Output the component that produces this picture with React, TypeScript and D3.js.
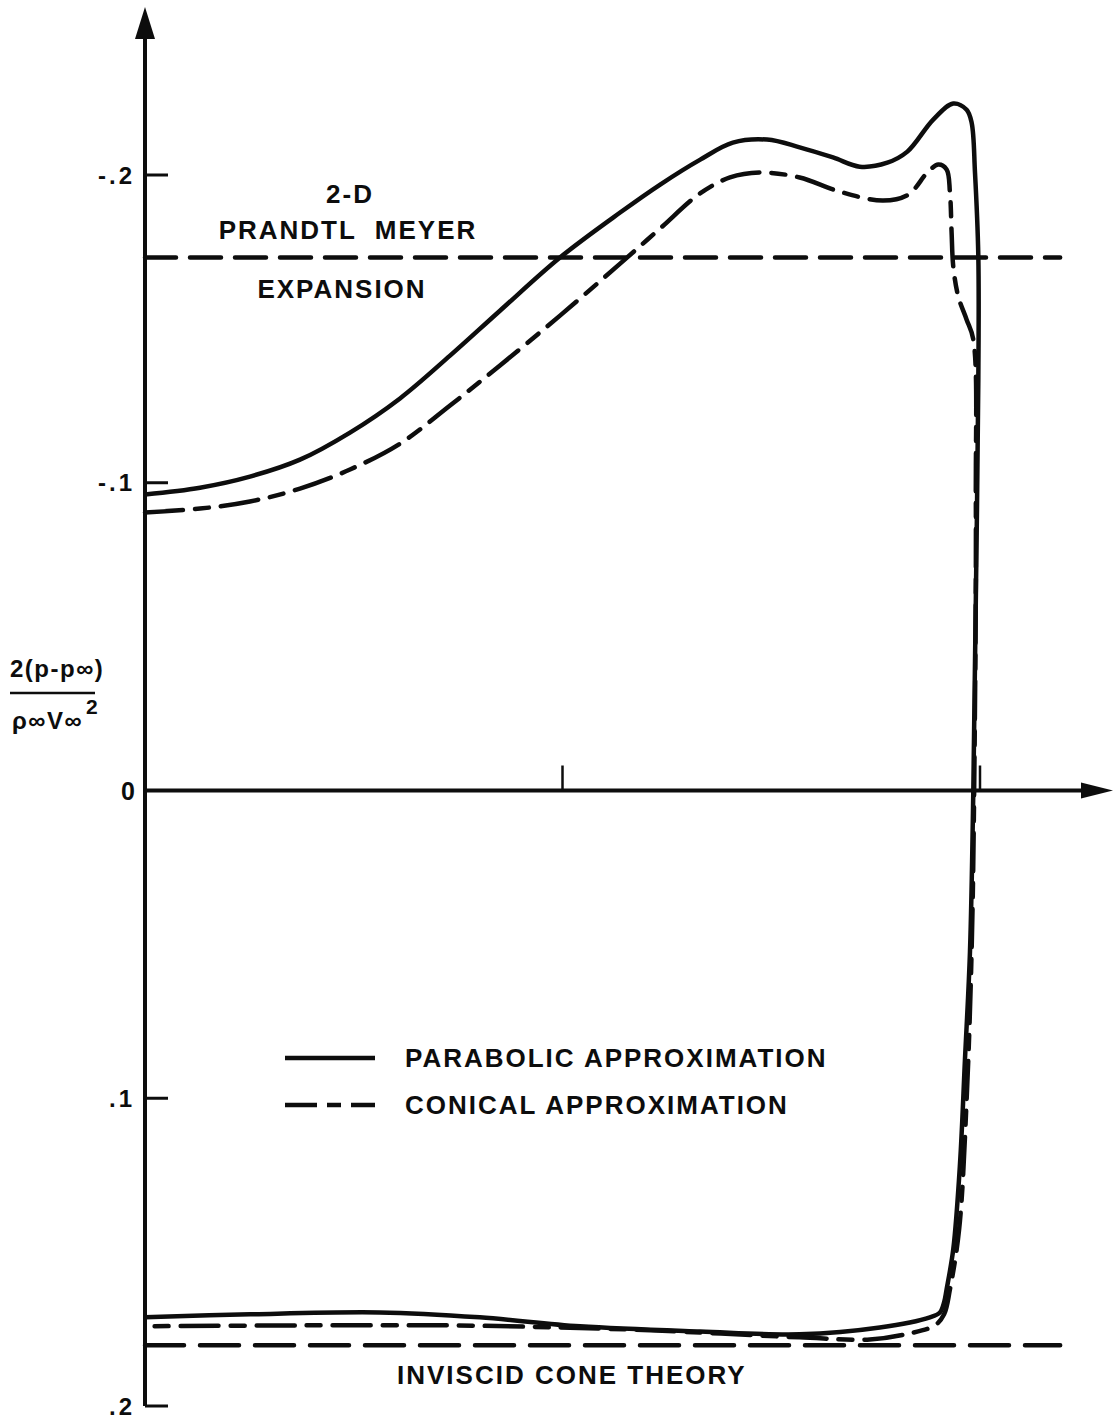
import React from "react";
import * as d3 from "d3";

// x / L along the body, pressure coefficient on y (negative up)
const parabolicX = [
  0, 0.0659, 0.1257, 0.1856, 0.2455, 0.3054, 0.3653, 0.4251, 0.497, 0.569, 0.617,
  0.665, 0.704, 0.745, 0.784, 0.824, 0.856, 0.889, 0.913, 0.944, 0.968, 0.984,
  0.99, 0.994, 0.998, 0.998, 0.995, 0.992, 0.988, 0.982, 0.976, 0.968, 0.96,
  0.957, 0.952, 0.94, 0.88, 0.784, 0.665, 0.521, 0.401, 0.281, 0.126, 0,
];
const parabolicY = [
  -0.0962, -0.0984, -0.102, -0.1075, -0.1163, -0.1274, -0.1413, -0.1559, -0.1732,
  -0.1878, -0.1969, -0.205, -0.2105, -0.2115, -0.209, -0.2057, -0.2027, -0.204,
  -0.2076, -0.218, -0.2232, -0.2212, -0.217, -0.2008, -0.1735, -0.1335, -0.062,
  0, 0.0523, 0.0874, 0.1215, 0.149, 0.1621, 0.1663, 0.1696, 0.1712, 0.1745,
  0.1767, 0.1758, 0.1741, 0.1712, 0.1696, 0.1702, 0.1712,
];

const conicalX = [
  0, 0.0659, 0.1257, 0.1856, 0.2455, 0.3054, 0.3653, 0.4251, 0.497, 0.569, 0.6168,
  0.6647, 0.7006, 0.7365, 0.784, 0.832, 0.884, 0.914, 0.937, 0.95, 0.96, 0.964,
  0.966, 0.968, 0.974, 0.984, 0.992, 0.995, 0.993, 0.99, 0.984, 0.975, 0.964,
  0.957, 0.946, 0.916, 0.868, 0.784, 0.605, 0.497, 0.365, 0.186, 0,
];
const conicalY = [
  -0.0903, -0.0916, -0.0939, -0.0981, -0.1043, -0.1127, -0.1251, -0.1381, -0.1543,
  -0.1712, -0.1826, -0.194, -0.1992, -0.2008, -0.1992, -0.1946, -0.1917, -0.1936,
  -0.2008, -0.2034, -0.2018, -0.1943, -0.1813, -0.1702, -0.1605, -0.153, -0.1465,
  -0.0945, 0, 0.0517, 0.1004, 0.1426, 0.1621, 0.1702, 0.1738, 0.1764, 0.1784,
  0.1777, 0.1754, 0.1745, 0.1738, 0.1738, 0.1741,
];

const prandtlMeyer = -0.1732;
const inviscidCone = 0.1803;
const referenceEndX = 1.096;

const xTicks = [0.5, 1.0];
const yTicks = [-0.2, -0.1, 0.1, 0.2];
const yTickLabels = ["-.2", "-.1", ".1", ".2"];
const zeroLabel = "0";

const legendLabels = ["PARABOLIC APPROXIMATION", "CONICAL APPROXIMATION"];

const INK = "#0d0d0d";
const FONT = "'Liberation Sans', Arial, Helvetica, sans-serif";

export default function App() {
  const width = 1118;
  const height = 1419;

  const x = d3.scaleLinear().domain([0, 1]).range([145, 980]);
  const y = d3.scaleLinear().domain([-0.2, 0.2]).range([175, 1406]);

  const x0 = x(0);
  const y0 = y(0);
  const yTop = 7;
  const xRight = 1113;

  const line = d3
    .line<[number, number]>()
    .x((d) => x(d[0]))
    .y((d) => y(d[1]))
    .curve(d3.curveCatmullRom.alpha(0.5));

  const parabolic = parabolicX.map((v, i) => [v, parabolicY[i]] as [number, number]);
  const conical = conicalX.map((v, i) => [v, conicalY[i]] as [number, number]);

  const textStyle = {
    fontFamily: FONT,
    fontWeight: 700,
    fontSize: 26,
    letterSpacing: 2,
    fill: INK,
    whiteSpace: "pre" as const,
  };

  return (
    <svg
      width={width}
      height={height}
      style={{ position: "absolute", left: 0, top: 0, background: "#fff" }}
    >
      <rect width={width} height={height} fill="#fff" />

      {/* reference levels */}
      <line
        x1={x0}
        x2={x(referenceEndX)}
        y1={y(prandtlMeyer)}
        y2={y(prandtlMeyer)}
        stroke={INK}
        strokeWidth={4.5}
        strokeDasharray="31 14"
        strokeLinecap="round"
      />
      <line
        x1={x0}
        x2={x(referenceEndX)}
        y1={y(inviscidCone)}
        y2={y(inviscidCone)}
        stroke={INK}
        strokeWidth={4.5}
        strokeDasharray="39 16"
        strokeLinecap="round"
      />

      {/* curves */}
      <path
        d={line(conical) || ""}
        fill="none"
        stroke={INK}
        strokeWidth={4.5}
        strokeDasharray="38 12 14 12"
        strokeLinecap="round"
      />
      <path d={line(parabolic) || ""} fill="none" stroke={INK} strokeWidth={4.5} />

      {/* axes */}
      <line x1={x0} x2={x0} y1={yTop + 20} y2={y(0.2)} stroke={INK} strokeWidth={4} />
      <path d={`M${x0},${yTop} L${x0 - 10},${yTop + 32} L${x0 + 10},${yTop + 32} Z`} fill={INK} />
      <line x1={x0} x2={xRight - 20} y1={y0} y2={y0} stroke={INK} strokeWidth={4} />
      <path d={`M${xRight},${y0} L${xRight - 32},${y0 - 8} L${xRight - 32},${y0 + 8} Z`} fill={INK} />

      {yTicks.map((t, i) => (
        <g key={t}>
          <line x1={x0} x2={x0 + 23} y1={y(t)} y2={y(t)} stroke={INK} strokeWidth={3} />
          <text
            x={x0 - 10}
            y={y(t)}
            dy="0.36em"
            textAnchor="end"
            style={{ ...textStyle, fontSize: 24, letterSpacing: 3 }}
          >
            {yTickLabels[i]}
          </text>
        </g>
      ))}
      <text
        x={x0 - 10}
        y={y0}
        dy="0.36em"
        textAnchor="end"
        style={{ ...textStyle, fontSize: 25, letterSpacing: 0 }}
      >
        {zeroLabel}
      </text>
      {xTicks.map((t) => (
        <line key={t} x1={x(t)} x2={x(t)} y1={y0} y2={y0 - 25} stroke={INK} strokeWidth={2.5} />
      ))}

      {/* y-axis label */}
      <text x={10} y={677} style={{ ...textStyle, fontSize: 24, letterSpacing: 1.5 }}>
        2(p-p∞)
      </text>
      <line x1={10} x2={95} y1={693} y2={693} stroke={INK} strokeWidth={2.5} />
      <text x={12} y={729} style={{ ...textStyle, fontSize: 24, letterSpacing: 1.5 }}>
        ρ∞V∞
      </text>
      <text x={86} y={714} style={{ ...textStyle, fontSize: 21, letterSpacing: 0 }}>
        2
      </text>

      {/* annotations */}
      <text x={350} y={203} textAnchor="middle" style={textStyle}>
        2-D
      </text>
      <text x={348} y={239} textAnchor="middle" style={textStyle}>
        {"PRANDTL  MEYER"}
      </text>
      <text x={342} y={298} textAnchor="middle" style={textStyle}>
        EXPANSION
      </text>
      <text x={397} y={1384} style={textStyle}>
        INVISCID CONE THEORY
      </text>

      {/* legend */}
      <line x1={285} x2={375} y1={1058} y2={1058} stroke={INK} strokeWidth={4.5} />
      <line
        x1={285}
        x2={375}
        y1={1105}
        y2={1105}
        stroke={INK}
        strokeWidth={4.5}
        strokeDasharray="32 10 14 10 40"
      />
      <text x={405} y={1067} style={textStyle}>
        {legendLabels[0]}
      </text>
      <text x={405} y={1114} style={textStyle}>
        {legendLabels[1]}
      </text>
    </svg>
  );
}
